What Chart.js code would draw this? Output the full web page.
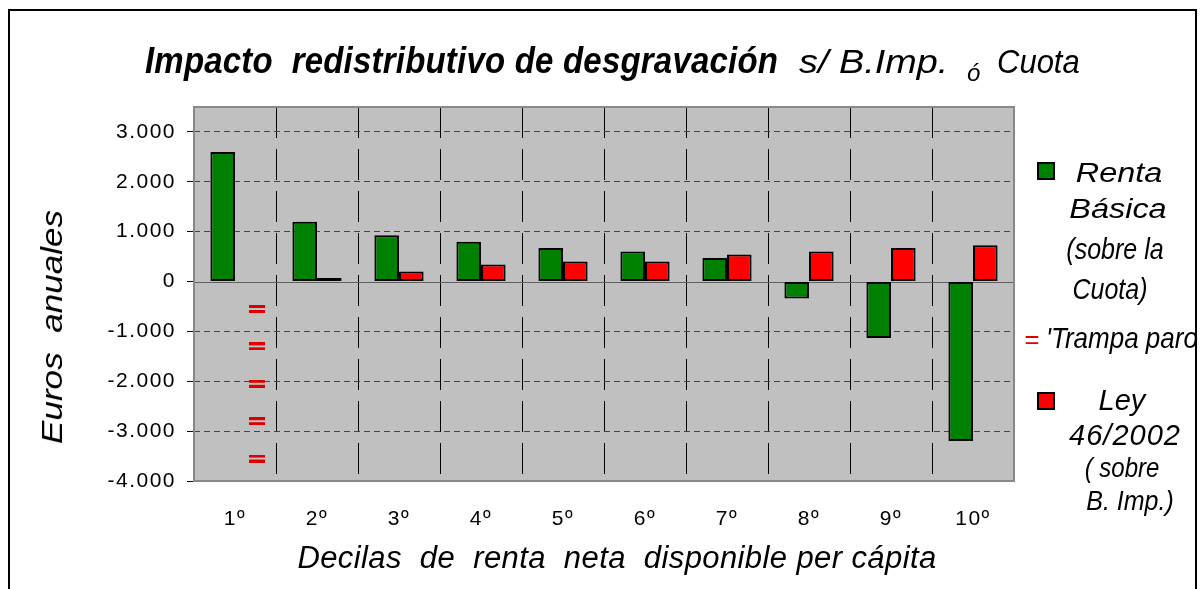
<!DOCTYPE html>
<html>
<head>
<meta charset="utf-8">
<script src="https://cdn.jsdelivr.net/npm/chart.js@4.4.1/dist/chart.umd.min.js"></script>
<style>
  html, body { margin: 0; padding: 0; background: #fff; }
  #wrap { position: relative; width: 1200px; height: 589px; overflow: hidden; font-family: 'Liberation Sans', Arial, sans-serif; }
  #frame { position: absolute; left: 8px; top: 9px; width: 1189px; height: 620px; border: 2px solid #000; box-sizing: border-box; }
  #chart { position: absolute; left: 0; top: 0; }
  .t { position: absolute; white-space: pre; font-style: italic; color: #000; }
  .box { position: absolute; width: 14px; height: 14px; border: 2px solid #000; }
</style>
</head>
<body>
<div id="wrap">
  <div id="frame"></div>
  <canvas id="chart" width="1200" height="589"></canvas>
  <div class="box" style="left:1037px; top:162px; background:#008000"></div>
  <div class="box" style="left:1037px; top:392px; background:#ff0000"></div>
</div>
<script>
// ── DATA ────────────────────────────────────────────────────────────────────
const deciles = ['1º', '2º', '3º', '4º', '5º', '6º', '7º', '8º', '9º', '10º'];
const rentaBasica = [2600, 1200, 930, 800, 670, 600, 470, -340, -1130, -3200];
const ley46 = [null, 70, 200, 340, 400, 400, 540, 600, 670, 730];
const trampaParo = [-550, -1300, -2050, -2800, -3550];   // all on the 1st decile
const yTicks = [-4000, -3000, -2000, -1000, 0, 1000, 2000, 3000];

const fmt = v => (v < 0 ? '-' : '') + String(Math.abs(v)).replace(/\B(?=(\d{3})+(?!\d))/g, '.');

// ── TEXT OVERLAYS ───────────────────────────────────────────────────────────
const wrap = document.getElementById('wrap');
function addText(str, o) {
  const el = document.createElement('div');
  el.className = 't';
  el.textContent = str;
  el.style.fontSize = o.size + 'px';
  el.style.lineHeight = o.size + 'px';
  el.style.top = (o.base - 0.8465 * o.size) + 'px';
  if (o.weight) el.style.fontWeight = o.weight;
  if (o.color) el.style.color = o.color;
  if (o.ls) el.style.letterSpacing = o.ls + 'px';
  const sc = `scale(${o.sx || 1}, ${o.sy || 1})`;
  if (o.center != null) {
    el.style.left = o.center + 'px';
    el.style.transformOrigin = '0 84.65%';
    el.style.transform = `${sc} translateX(-50%)`;
  } else {
    el.style.left = o.left + 'px';
    el.style.transformOrigin = '0 84.65%';
    el.style.transform = sc;
  }
  wrap.appendChild(el);
  return el;
}

// title
addText('Impacto  redistributivo de desgravación', { left: 145, base: 73, size: 33, weight: 'bold', ls: 0.2, sy: 1.1 });
addText('s/ B.Imp.', { left: 799, base: 73, size: 31, sx: 1.22, sy: 1.1 });
addText('ó', { left: 967, base: 81, size: 24 });
addText('Cuota', { left: 997, base: 73, size: 31, sy: 1.1 });

// legend
addText('Renta', { center: 1119, base: 183, size: 27, sx: 1.2 });
addText('Básica', { center: 1118, base: 219, size: 27, sx: 1.2 });
addText('(sobre la', { center: 1115, base: 259, size: 25, sy: 1.15 });
addText('Cuota)', { center: 1110, base: 299, size: 25, sy: 1.15 });
addText('=', { left: 1024, base: 348, size: 26, color: '#e00000' });
addText("'Trampa paro", { left: 1046, base: 348, size: 26, sy: 1.1 });
addText('Ley', { center: 1122, base: 411, size: 29 });
addText('46/2002', { center: 1125, base: 446, size: 29, ls: 1 });
addText('( sobre', { center: 1122, base: 477, size: 24, sy: 1.15 });
addText('B. Imp.)', { center: 1130, base: 510, size: 25, sy: 1.1 });

// axis titles
addText('Decilas  de  renta  neta  disponible per cápita', { center: 617, base: 568, size: 31, ls: 0.4 });
const yt = addText('Euros  anuales', { left: 0, base: 0, size: 30 });
yt.style.left = '52px';
yt.style.top = '327px';
yt.style.transformOrigin = '0 0';
yt.style.transform = 'rotate(-90deg) scaleX(1.17) translate(-50%, -50%)';

// ── CHART ───────────────────────────────────────────────────────────────────
function makeEqualsMark() {
  const c = document.createElement('canvas');
  c.width = 64; c.height = 8;
  const g = c.getContext('2d');
  g.fillStyle = '#dd0000';
  g.fillRect(46, 0, 16, 3);
  g.fillRect(46, 5, 16, 3);
  return c;
}

const plotFrame = {
  id: 'plotFrame',
  beforeDraw(chart) {
    const { ctx, chartArea: a } = chart;
    ctx.save();
    ctx.fillStyle = '#c0c0c0';
    ctx.fillRect(a.left, a.top, a.width, a.height);
    ctx.restore();
    ctx.letterSpacing = '1.5px';
  },
  beforeDatasetsDraw(chart) {
    const { ctx, chartArea: a, scales: { y } } = chart;
    const y0 = Math.round(y.getPixelForValue(0)) + 0.5;
    ctx.save();
    ctx.strokeStyle = '#606060';
    ctx.lineWidth = 1;
    ctx.beginPath(); ctx.moveTo(a.left, y0); ctx.lineTo(a.right, y0); ctx.stroke();
    ctx.lineWidth = 2;
    ctx.strokeStyle = '#888';
    ctx.strokeRect(a.left, a.top, a.width, a.height);
    ctx.restore();
  },
  afterDraw(chart) { chart.ctx.letterSpacing = '0px'; }
};

const tickFont = { family: "'Liberation Sans', Arial, sans-serif", size: 21 };

new Chart(document.getElementById('chart').getContext('2d'), {
  type: 'bar',
  data: {
    labels: deciles,
    datasets: [
      { label: 'Renta Básica (sobre la Cuota)', data: rentaBasica, backgroundColor: '#008000', borderColor: '#000', borderWidth: 2, borderSkipped: false, categoryPercentage: 0.6, barPercentage: 1.0, order: 2 },
      { label: 'Ley 46/2002 (sobre B. Imp.)', data: ley46, backgroundColor: '#ff0000', borderColor: '#000', borderWidth: 2, borderSkipped: false, categoryPercentage: 0.6, barPercentage: 1.0, order: 2 },
      { type: 'line', label: "'Trampa paro", data: trampaParo.map(v => ({ x: deciles[0], y: v })), showLine: false, pointStyle: makeEqualsMark(), pointRadius: 4, order: 0 }
    ]
  },
  options: {
    responsive: false, animation: false,
    layout: { padding: { top: 107, right: 186, bottom: 14, left: 20 } },
    plugins: { legend: { display: false }, tooltip: { enabled: false }, title: { display: false } },
    scales: {
      x: {
        offset: true,
        afterFit: s => { s.height = 94; },
        grid: { offset: true, drawTicks: false, lineWidth: 1, color: c => (c.index === 0 || c.index === deciles.length) ? 'rgba(0,0,0,0)' : '#000' },
        border: { display: false, dash: [31, 11] },
        ticks: { color: '#000', padding: 26, font: tickFont }
      },
      y: {
        min: -4000, max: 3500,
        afterBuildTicks: s => { s.ticks = yTicks.map(v => ({ value: v })); },
        afterFit: s => { s.width = 174; },
        grid: { lineWidth: 1, tickLength: 7, tickColor: '#000', color: c => (c.tick && (c.tick.value === 0 || c.tick.value === -4000)) ? 'rgba(0,0,0,0)' : '#444' },
        border: { display: false, dash: [6, 4] },
        ticks: { color: '#000', padding: 11, font: tickFont, callback: v => fmt(v) }
      }
    }
  },
  plugins: [plotFrame]
});
</script>
</body>
</html>
